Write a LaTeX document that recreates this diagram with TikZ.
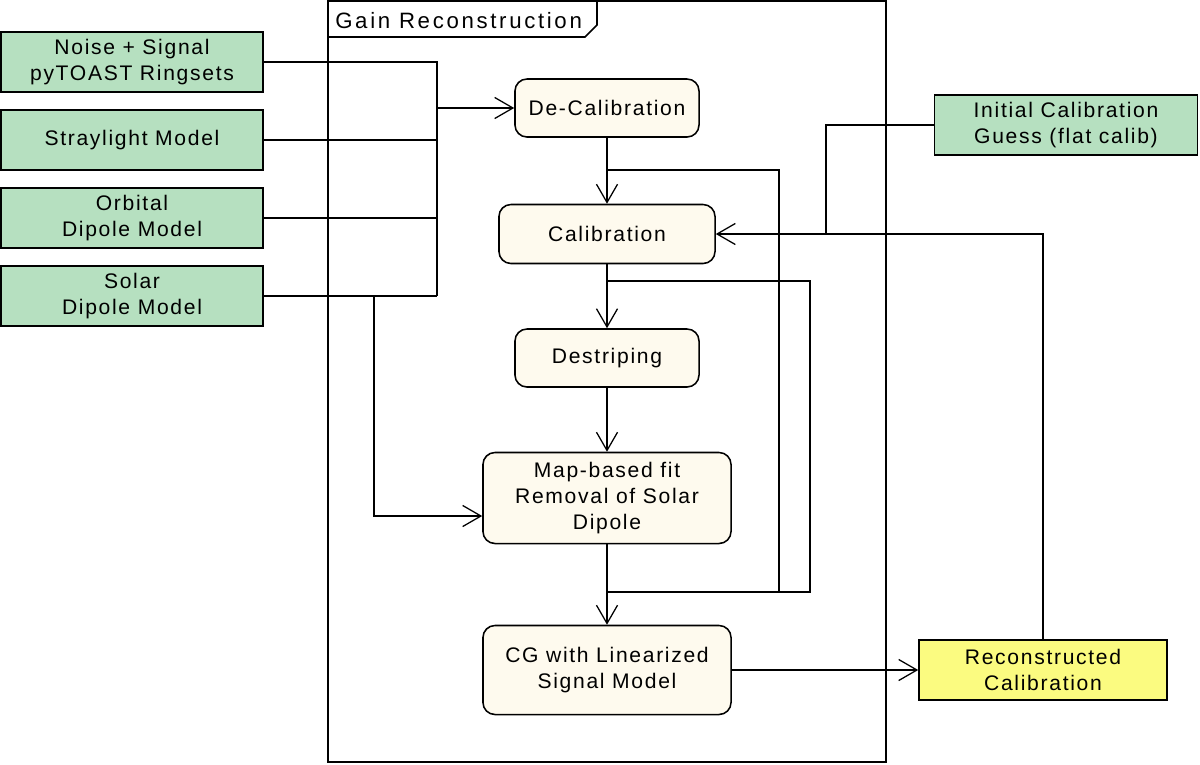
\documentclass[tikz,border=0pt]{standalone}
\usepackage{fontspec}
\setmainfont{Liberation Sans}[LetterSpace=8]
\newfontfamily\frametitlefont{Liberation Sans}[LetterSpace=12]
\usetikzlibrary{arrows.meta}
\definecolor{inputgreen}{HTML}{B6E0C0}
\definecolor{stepcream}{HTML}{FEFAEE}
\definecolor{resultyellow}{HTML}{FBFB80}
\begin{document}
\begin{tikzpicture}[x=0.025cm, y=-0.025cm,
    every node/.style={font=\fontsize{15}{18.4}\selectfont, align=center, inner sep=0pt},
    inputbox/.style={draw, rectangle, line width=1.1pt, fill=inputgreen, minimum width=6.55cm, minimum height=1.5cm},
    stepbox/.style={draw, rectangle, rounded corners=0.3cm, line width=1.1pt, fill=stepcream, minimum height=1.45cm},
    link/.style={line width=0.9pt},
    arr/.style={link, -{Straight Barb[length=13pt, width=15pt, line width=0.9pt]}}]
    \useasboundingbox (0,0) rectangle (1200,764);

    \draw[line width=1.1pt] (328,1) rectangle (886,762);
    \draw[line width=1.1pt] (328,37) -- (585,37) -- (597,25) -- (597,1);
    \node (frametitle) [anchor=west, font=\frametitlefont\fontsize{15.8}{19}\selectfont] at (335,21) {Gain Reconstruction};

    \node (noise) [inputbox] at (132,62) {Noise + Signal\\pyTOAST Ringsets};
    \node (stray) [inputbox] at (132,140) {Straylight Model};
    \node (orbital) [inputbox] at (132,218) {Orbital\\Dipole Model};
    \node (solar) [inputbox] at (132,296) {Solar\\Dipole Model};

    \node (decal) [stepbox, minimum width=4.6cm] at (607,108) {De-Calibration};
    \node (calib) [stepbox, minimum width=5.4cm, minimum height=1.475cm] at (607,234) {Calibration};
    \node (destripe) [stepbox, minimum width=4.6cm] at (607,358) {Destriping};
    \node (mapfit) [stepbox, minimum width=6.2cm, minimum height=2.275cm] at (607,498) {Map-based fit\\Removal of Solar\\Dipole};
    \node (cg) [stepbox, minimum width=6.2cm, minimum height=2.225cm] at (607,670) {CG with Linearized\\Signal Model};

    \node (initguess) [inputbox, minimum width=6.575cm] at (1066,125) {Initial Calibration\\Guess (flat calib)};
    \node (recon) [draw, rectangle, line width=1.1pt, fill=resultyellow, minimum width=6.2cm, minimum height=1.5cm] at (1043,670) {Reconstructed\\Calibration};

    \coordinate (bus) at (437,296);
    \coordinate (solarturn) at (374,296);
    \coordinate (splitA) at (607,170);
    \coordinate (splitB) at (607,281);
    \coordinate (merge) at (607,592);
    \coordinate (loopA) at (779,592);
    \coordinate (loopB) at (810,592);
    \coordinate (initturn) at (826,234);

    \draw[link] (noise.east) -| (bus);
    \draw[link] (stray.east) -- (stray.east -| bus);
    \draw[link] (orbital.east) -- (orbital.east -| bus);
    \draw[link] (solar.east) -- (bus);
    \draw[arr] (decal.west -| bus) -- (decal.west);
    \draw[arr] (solarturn) |- ([yshift=-0.45cm]mapfit.west);

    \draw[arr] (decal) -- (calib);
    \draw[arr] (calib) -- (destripe);
    \draw[arr] (destripe) -- (mapfit);
    \draw[arr] (mapfit) -- (cg);
    \draw[link] (splitA) -| (loopA) -- (merge);
    \draw[link] (splitB) -| (loopB) -- (merge);

    \draw[link] (initguess.west) -| (initturn);
    \draw[arr] (recon.north) |- (calib.east);
    \draw[arr] (cg) -- (recon);
\end{tikzpicture}
\end{document}
